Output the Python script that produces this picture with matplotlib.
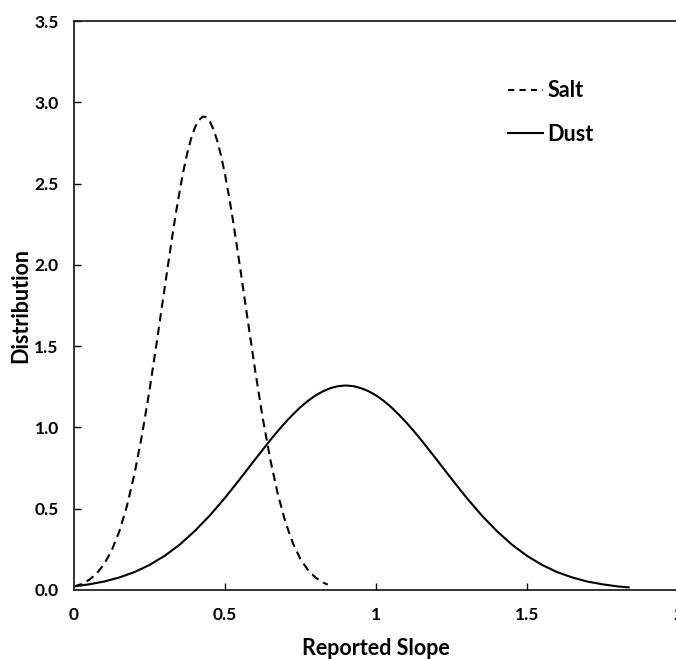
import matplotlib
matplotlib.use("Agg")
import matplotlib.pyplot as plt
from matplotlib.lines import Line2D

# Values
salt_x = [0.0, 0.025, 0.05, 0.075, 0.1, 0.125, 0.15, 0.175, 0.2, 0.225, 0.25, 0.275,
          0.3, 0.325, 0.3375, 0.35, 0.3625, 0.375, 0.3875, 0.4, 0.4125, 0.425, 0.43,
          0.4375, 0.45, 0.4625, 0.475, 0.4875, 0.5, 0.5125, 0.525, 0.55, 0.575,
          0.6, 0.625, 0.65, 0.675, 0.7, 0.725, 0.75, 0.775, 0.8, 0.825, 0.84]
salt_y = [0.021, 0.037, 0.062, 0.101, 0.160, 0.244, 0.360, 0.515, 0.712, 0.951, 1.229, 1.536,
          1.857, 2.171, 2.319, 2.455, 2.579, 2.687, 2.775, 2.843, 2.888, 2.910, 2.912,
          2.908, 2.881, 2.831, 2.759, 2.667, 2.556, 2.429, 2.290, 1.984, 1.663,
          1.349, 1.057, 0.802, 0.589, 0.418, 0.287, 0.190, 0.122, 0.076, 0.046, 0.033]

dust_x = [0.0, 0.05, 0.1, 0.15, 0.2, 0.25, 0.3, 0.35, 0.4, 0.45, 0.5, 0.55, 0.6, 0.65,
          0.675, 0.7, 0.725, 0.75, 0.775, 0.8, 0.825, 0.85, 0.875, 0.9, 0.925, 0.95,
          0.975, 1.0, 1.025, 1.05, 1.075, 1.1, 1.125, 1.15, 1.2, 1.25, 1.3, 1.35,
          1.4, 1.45, 1.5, 1.55, 1.6, 1.65, 1.7, 1.75, 1.8, 1.84]
dust_y = [0.022, 0.035, 0.052, 0.077, 0.110, 0.154, 0.210, 0.279, 0.363, 0.459, 0.567, 0.684,
          0.804, 0.922, 0.978, 1.031, 1.080, 1.125, 1.164, 1.197, 1.223, 1.242, 1.254,
          1.258, 1.254, 1.242, 1.223, 1.197, 1.164, 1.125, 1.080, 1.031, 0.978, 0.922,
          0.804, 0.684, 0.567, 0.459, 0.363, 0.279, 0.210, 0.154, 0.110, 0.077, 0.052,
          0.035, 0.022, 0.0155]

x_ticks = [0, 0.5, 1, 1.5, 2]
x_ticklabels = ["0", "0.5", "1", "1.5", "2"]
y_ticks = [0.0, 0.5, 1.0, 1.5, 2.0, 2.5, 3.0, 3.5]
y_ticklabels = ["0.0", "0.5", "1.0", "1.5", "2.0", "2.5", "3.0", "3.5"]

plt.rcParams['font.family'] = ['Lato', 'DejaVu Sans']
plt.rcParams['font.weight'] = 'bold'

fig = plt.figure(figsize=(6.76, 6.59), dpi=100)
W, H = 676, 659
ax = fig.add_axes([74 / W, (H - 590) / H, (678 - 74) / W, (590 - 21) / H])

ax.plot(salt_x, salt_y, color='black', lw=1.5, dashes=(4, 2.6), solid_capstyle='butt',
        dash_capstyle='butt', solid_joinstyle='round')
ax.plot(dust_x, dust_y, color='black', lw=1.5, solid_capstyle='butt',
        solid_joinstyle='round')

ax.set_xlim(0, 2)
ax.set_ylim(0, 3.5)
ax.set_xticks(x_ticks)
ax.set_xticklabels(x_ticklabels)
ax.set_yticks(y_ticks)
ax.set_yticklabels(y_ticklabels)

for s in ax.spines.values():
    s.set_linewidth(1.3)
    s.set_color('#222222')

ax.tick_params(axis='both', direction='in', length=5, width=1.0, labelsize=12.5)
ax.tick_params(axis='y', pad=11)
ax.tick_params(axis='x', pad=12)
ax.xaxis.get_major_ticks()[0].tick1line.set_visible(False)
ax.yaxis.get_major_ticks()[0].tick1line.set_visible(False)

ax.set_xlabel("Reported Slope", fontsize=15.5, fontweight='bold', labelpad=11)
ax.set_ylabel("Distribution", fontsize=15.5, fontweight='bold', labelpad=2)

handles = [Line2D([], [], color='black', lw=1.5, dashes=(3, 2.5)),
           Line2D([], [], color='black', lw=1.5)]
ax.legend(handles, ["Salt", "Dust"], loc='upper left', bbox_to_anchor=(0.687, 0.93),
          frameon=False, handlelength=1.6, handletextpad=0.2,
          labelspacing=1.05, prop={'weight': 'bold', 'size': 15.5})

fig.savefig("out.png", dpi=100)
